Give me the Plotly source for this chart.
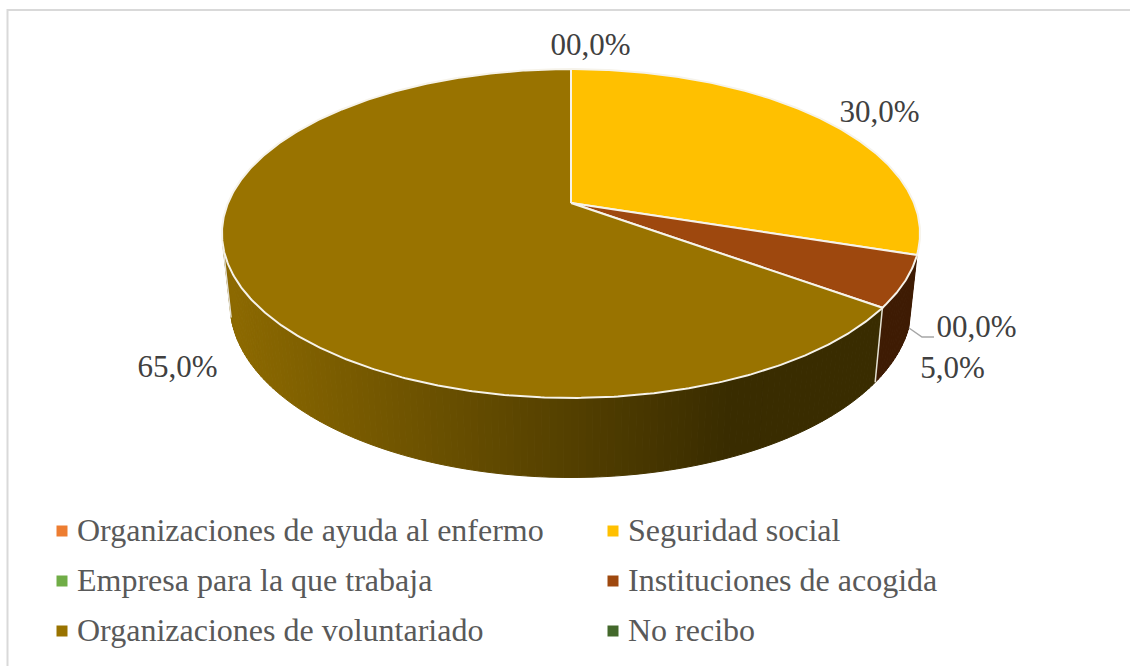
import numpy as np
import plotly.graph_objects as go

# ---- data ----
categories = ["Organizaciones de ayuda al enfermo", "Seguridad social",
              "Empresa para la que trabaja", "Instituciones de acogida",
              "Organizaciones de voluntariado", "No recibo"]
values = [0.0, 30.0, 0.0, 5.0, 65.0, 0.0]
colors = ["#ED7D31", "#FFC000", "#70AD47", "#9E480E", "#997300", "#43682B"]
label_shown = [True, True, True, True, True, False]

# ---- layout constants ----
W, H = 1130, 666
CX, K = 571, 0.1853
TOP = dict(y0=203, rx=343, ry=158.8)
BOT = dict(y0=272, rx=335, ry=167.4)
WALL_START_FRAC = 0.30       # where the side wall becomes visible on the right
WALL_END_ANGLE = 255
LABEL_XY = {0: (590.5, 47), 1: (879.5, 114), 2: (976.5, 329), 3: (952.5, 370), 4: (177.5, 369)}
LEG_MARK_X, LEG_TEXT_X = [62, 613], [77, 628]
LEG_Y = [533, 583, 633]
SERIF = "Liberation Serif"


def rim(deg, e):
    t = np.radians(np.asarray(deg, dtype=float))
    u, v = np.sin(t), np.cos(t)
    w = 1 + K * v
    return CX + e["rx"] * u / w, e["y0"] - e["ry"] * v / w


def mix(a, b, f):
    f = min(max(f, 0), 1)
    return "#" + "".join(f"{round(x + (y - x) * f):02X}" for x, y in zip(a, b))


fig = go.Figure()


def poly(xs, ys, fill, line=None, lw=1.0):
    fig.add_trace(go.Scatter(x=list(xs), y=list(ys), mode="lines", fill="toself",
                             fillcolor=fill, line=dict(color=line or fill, width=lw),
                             hoverinfo="skip", showlegend=False))


shares = np.array(values) / sum(values)
ends = np.cumsum(shares) * 360
starts = ends - shares * 360

# side wall: dark solid for the 5 % slice, horizontal gradient for the 65 % slice
wall_from = 360 * WALL_START_FRAC
i_inst, i_vol = 3, 4
for a in np.arange(wall_from, WALL_END_ANGLE, 1.0):
    b = a + 1.0
    xt, yt = rim([a, b], TOP)
    xb, yb = rim([b, a], BOT)
    if a < ends[i_inst]:
        col = "#3E1B03"
    else:
        mid = float(rim(a + .5, TOP)[0])
        col = mix((0x8C, 0x69, 0x00), (0x39, 0x2C, 0x00), (mid - 230) / (730 - 230))
    poly(np.r_[xt, xb, xt[0]], np.r_[yt, yb, yt[0]], col)

# light edges of the wall
for ang in [ends[i_inst], WALL_END_ANGLE]:
    xt, yt = rim(ang, TOP)
    xb, yb = rim(ang, BOT)
    fig.add_trace(go.Scatter(x=[xt, xb], y=[yt, yb], mode="lines", hoverinfo="skip",
                             line=dict(color="#E4E0D2", width=1.5), showlegend=False))

# top face
for s, e, c in zip(starts, ends, colors):
    if e - s <= 0:
        continue
    aa = np.linspace(s, e, max(int(e - s) * 2, 2))
    xr, yr = rim(aa, TOP)
    poly(np.r_[CX, xr, CX], np.r_[TOP["y0"], yr, TOP["y0"]], c, "#F6F3EA", 2)

# leader line
fig.add_trace(go.Scatter(x=[909, 922, 934], y=[328, 337, 337], mode="lines", hoverinfo="skip",
                         line=dict(color="#A6A6A6", width=1.5), showlegend=False))

# data labels
for i, v in enumerate(values):
    if label_shown[i]:
        txt = f"{v:04.1f}%".replace(".", ",") if v == 0 else f"{v:.1f}%".replace(".", ",")
        x, y = LABEL_XY[i]
        fig.add_trace(go.Scatter(x=[x], y=[y], mode="text", text=[txt], textposition="middle center",
                                 textfont=dict(family=SERIF, size=31, color="#404040"),
                                 hoverinfo="skip", showlegend=False, cliponaxis=False))

# legend (fixed two-column grid)
for i, (name, c) in enumerate(zip(categories, colors)):
    col, row = i % 2, i // 2
    fig.add_trace(go.Scatter(x=[LEG_MARK_X[col]], y=[LEG_Y[row] - 2], mode="markers", name=name,
                             marker=dict(symbol="square", size=11, color=c),
                             hoverinfo="skip", showlegend=False))
    fig.add_trace(go.Scatter(x=[LEG_TEXT_X[col]], y=[LEG_Y[row]], mode="text", text=[name],
                             textposition="middle right",
                             textfont=dict(family=SERIF, size=32, color="#595959"),
                             hoverinfo="skip", showlegend=False, cliponaxis=False))

fig.update_layout(
    width=W, height=H, margin=dict(l=0, r=0, t=0, b=0),
    paper_bgcolor="white", plot_bgcolor="white", showlegend=False,
    xaxis=dict(range=[0, W], visible=False, fixedrange=True),
    yaxis=dict(range=[H, 0], visible=False, fixedrange=True),
    shapes=[dict(type="rect", xref="x", yref="y", x0=7.5, y0=10, x1=W + 20, y1=H + 20,
                 line=dict(color="#D9D9D9", width=2), layer="below")],
)
fig.write_html("out.html", config=dict(displayModeBar=False),
               post_script="document.body.style.margin='0';document.documentElement.style.overflow='hidden';")
